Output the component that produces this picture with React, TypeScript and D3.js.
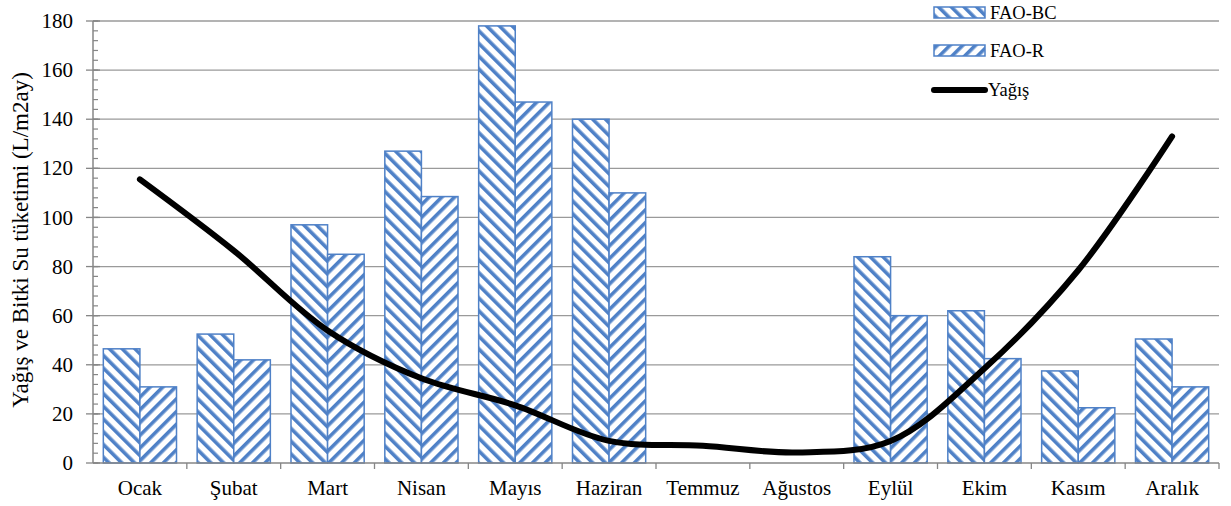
import React from "react";
import * as d3 from "d3";

const months = ["Ocak", "Şubat", "Mart", "Nisan", "Mayıs", "Haziran", "Temmuz", "Ağustos", "Eylül", "Ekim", "Kasım", "Aralık"];
const faoBC = [46.5, 52.5, 97, 127, 178, 140, 0, 0, 84, 62, 37.5, 50.5];
const faoR = [31, 42, 85, 108.5, 147, 110, 0, 0, 60, 42.5, 22.5, 31];
const yagis = [115.5, 86.5, 54, 34.5, 23.5, 9, 7, 4.3, 9, 38.5, 78.5, 133];
const yTicks = [0, 20, 40, 60, 80, 100, 120, 140, 160, 180];

const W = 1231;
const H = 506;
const margin = { top: 21, right: 12, bottom: 43, left: 93 };
const blue = "#4f81c7";
const font = "Liberation Serif, Times New Roman, DejaVu Serif, serif";

const App = () => {
  const x = d3.scaleBand<string>().domain(months).range([margin.left, W - margin.right]);
  const y = d3.scaleLinear().domain([0, 180]).range([H - margin.bottom, margin.top]);
  const minor = d3.range(0, 181, 4);
  const bw = x.bandwidth();
  const barW = bw * 0.39;
  const pad = (bw - 2 * barW) / 2;

  const line = d3
    .line<number>()
    .x((_, i) => (x(months[i]) as number) + bw / 2)
    .y((d) => y(d))
    .curve(d3.curveCatmullRom.alpha(0.5));

  return (
    <svg width={W} height={H} style={{ position: "absolute", left: 0, top: 0, background: "#fff", fontFamily: font }}>
      <defs>
        <pattern id="bc" patternUnits="userSpaceOnUse" width={9} height={9} patternTransform="rotate(-45)">
          <rect width={9} height={9} fill="#fff" />
          <rect width={3.6} height={9} fill={blue} />
        </pattern>
        <pattern id="r" patternUnits="userSpaceOnUse" width={9} height={9} patternTransform="rotate(45)">
          <rect width={9} height={9} fill="#fff" />
          <rect width={3.6} height={9} fill={blue} />
        </pattern>
      </defs>

      {/* gridlines */}
      {yTicks.slice(1).map((t) => (
        <line key={t} x1={margin.left} x2={W - margin.right} y1={y(t)} y2={y(t)} stroke="#9a9a9a" strokeWidth={1.3} />
      ))}

      {/* bars */}
      {months.map((m, i) => (
        <g key={m}>
          {faoBC[i] > 0 && (
            <rect x={(x(m) as number) + pad} y={y(faoBC[i])} width={barW} height={y(0) - y(faoBC[i])}
              fill="url(#bc)" stroke={blue} strokeWidth={1.5} />
          )}
          {faoR[i] > 0 && (
            <rect x={(x(m) as number) + pad + barW} y={y(faoR[i])} width={barW} height={y(0) - y(faoR[i])}
              fill="url(#r)" stroke={blue} strokeWidth={1.5} />
          )}
        </g>
      ))}

      {/* y axis */}
      <line x1={margin.left} x2={margin.left} y1={y(180)} y2={y(0)} stroke="#868686" strokeWidth={1.5} />
      {minor.map((t) => (
        <line key={t} x1={margin.left} x2={margin.left + 5} y1={y(t)} y2={y(t)} stroke="#868686" strokeWidth={1.2} />
      ))}
      {yTicks.map((t) => (
        <g key={t}>
          <line x1={margin.left - 7} x2={margin.left + 7} y1={y(t)} y2={y(t)} stroke="#868686" strokeWidth={1.3} />
          <text x={margin.left - 20} y={y(t)} dy="0.34em" textAnchor="end" fontSize={21}>{t}</text>
        </g>
      ))}

      {/* x axis */}
      <line x1={margin.left} x2={W - margin.right} y1={y(0)} y2={y(0)} stroke="#868686" strokeWidth={1.5} />
      {months.map((m, i) => (
        <g key={m}>
          <line x1={(x(m) as number) + bw} x2={(x(m) as number) + bw} y1={y(0)} y2={y(0) + 6} stroke="#868686" strokeWidth={1.3} />
          <text x={(x(m) as number) + bw / 2} y={y(0) + 32} textAnchor="middle" fontSize={21}>{m}</text>
        </g>
      ))}

      {/* line */}
      <path d={line(yagis) ?? ""} fill="none" stroke="#000" strokeWidth={6} strokeLinejoin="round" strokeLinecap="round" />

      {/* axis title */}
      <text transform={`translate(28,${(y(0) + y(180)) / 2 - 2}) rotate(-90)`} textAnchor="middle" fontSize={23}>
        Yağış ve Bitki Su tüketimi (L/m2ay)
      </text>

      {/* legend */}
      <g fontSize={18.5}>
        <rect x={934} y={7} width={51} height={11} fill="url(#bc)" stroke={blue} strokeWidth={1.5} />
        <text x={990} y={19}>FAO-BC</text>
        <rect x={934} y={45} width={51} height={11} fill="url(#r)" stroke={blue} strokeWidth={1.5} />
        <text x={990} y={57}>FAO-R</text>
        <line x1={934} x2={985} y1={90} y2={90} stroke="#000" strokeWidth={6} strokeLinecap="round" />
        <text x={988} y={96}>Yağış</text>
      </g>
    </svg>
  );
};

export default App;
